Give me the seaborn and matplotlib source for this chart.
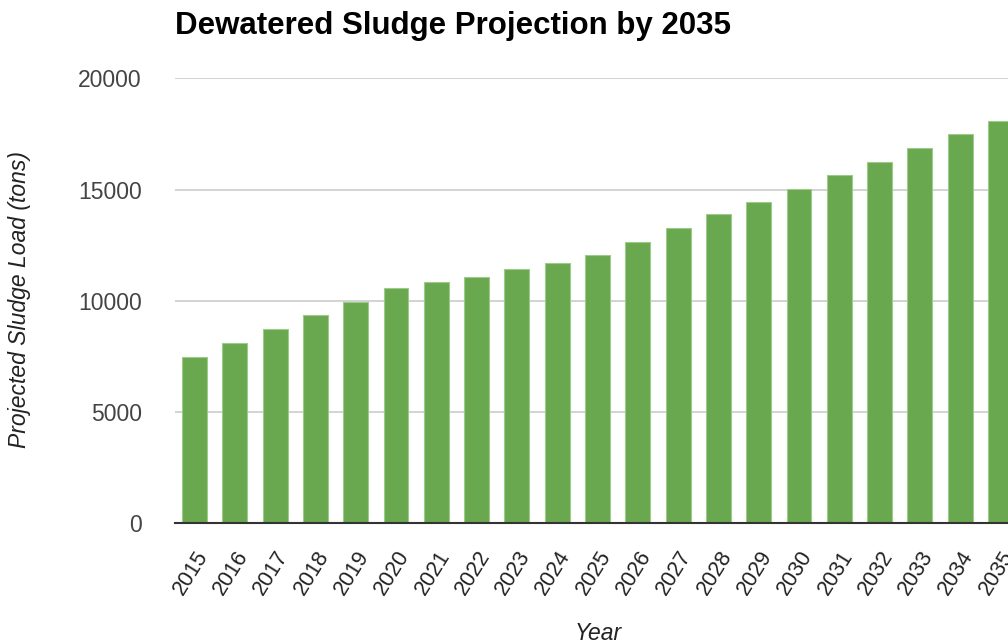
import matplotlib
matplotlib.use("Agg")
import matplotlib.pyplot as plt
import seaborn as sns
import pandas as pd

years = [str(y) for y in range(2015, 2036)]
sludge_tons = [7490, 8120, 8720, 9350, 9950, 10560, 10830, 11080, 11430, 11700,
               12060, 12660, 13290, 13890, 14430, 15020, 15640, 16250, 16870,
               17480, 18090]
y_ticks = [0, 5000, 10000, 15000, 20000]

title = "Dewatered Sludge Projection by 2035"
x_label = "Year"
y_label = "Projected Sludge Load (tons)"

sns.set_theme(style="white")
plt.rcParams["font.family"] = ["Liberation Sans", "DejaVu Sans"]

df = pd.DataFrame({"Year": years, "Load": sludge_tons})

W, H = 1008, 641
fig = plt.figure(figsize=(W / 100, H / 100), dpi=100)
ax = fig.add_axes([175 / W, 1 - 523.3 / H, (1020 - 175) / W, (523.3 - 78.3) / H])

sns.barplot(data=df, x="Year", y="Load", color="#6aa84f", saturation=1,
            width=0.62, edgecolor="#9ccc87", linewidth=0.8, ax=ax, zorder=3)

ax.set_xlim(-0.484, len(years) - 1 + 0.484)
ax.set_ylim(0, 20000)
ax.set_yticks(y_ticks)
ax.set_yticklabels([str(t) for t in y_ticks])
ax.yaxis.grid(True, color="#cccccc", linewidth=1.2, zorder=0)
ax.xaxis.grid(False)
for s in ["top", "right", "left"]:
    ax.spines[s].set_visible(False)
ax.spines["bottom"].set_color("#333333")
ax.spines["bottom"].set_linewidth(1.5)
ax.spines["bottom"].set_zorder(4)

ax.tick_params(axis="y", length=0, pad=24, labelsize=16.5, labelcolor="#444444")
ax.tick_params(axis="x", length=0, pad=17, labelsize=15.5, labelcolor="#222222")
for lbl in ax.get_xticklabels():
    lbl.set_rotation(58)
    lbl.set_ha("right")
    lbl.set_rotation_mode("anchor")

ax.set_xlabel("")
ax.set_ylabel("")
fig.text(598 / W, 1 - 622 / H, x_label, ha="center", va="top", fontsize=16.5,
         style="italic", color="#222222")
fig.text(20 / W, 1 - 300 / H, y_label, ha="center", va="center", rotation=90,
         fontsize=16.5, style="italic", color="#222222")
fig.text(175 / W, 1 - 26 / H, title, ha="left", va="center", fontsize=22.5,
         fontweight="bold", color="#000000")

fig.savefig("out.png", dpi=100)
